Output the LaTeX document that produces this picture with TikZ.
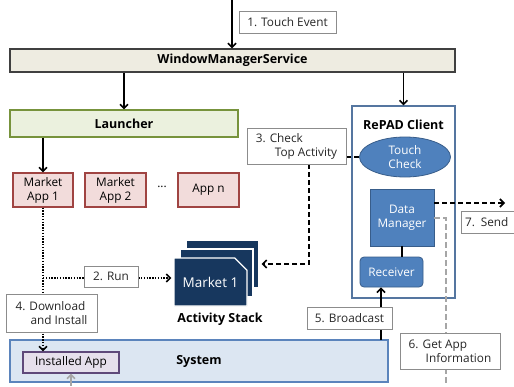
\documentclass[tikz,border=0pt]{standalone}
\usepackage{fontspec}
\setmainfont{Open Sans}
\usetikzlibrary{arrows.meta,shapes.geometric,shapes.misc}
\definecolor{wmsfill}{HTML}{EEECE1}
\definecolor{lnchfill}{HTML}{EBF1DE}
\definecolor{lnchline}{HTML}{77933C}
\definecolor{appfill}{HTML}{F2DCDB}
\definecolor{appline}{HTML}{A04442}
\definecolor{blockfill}{HTML}{4F81BD}
\definecolor{blockline}{HTML}{385D8A}
\definecolor{clientline}{HTML}{5576A0}
\definecolor{sysfill}{HTML}{DCE6F2}
\definecolor{sysline}{HTML}{5B84BC}
\definecolor{instfill}{HTML}{E6E0EC}
\definecolor{instline}{HTML}{5F497A}
\definecolor{stackfill}{HTML}{17375E}
\newcommand{\hd}[1]{{\fontsize{12.5}{15}\selectfont\bfseries #1}}
\tikzset{
  every node/.style={font=\fontsize{11.8}{14}\selectfont, inner sep=0pt, align=center},
  wmsbox/.style={draw=black!75, fill=wmsfill, line width=1.3pt},
  lnchbox/.style={draw=lnchline, fill=lnchfill, line width=1.2pt},
  appbox/.style={draw=appline, fill=appfill, line width=1.1pt, minimum width=61pt, minimum height=34pt},
  clientbox/.style={draw=clientline, fill=white, line width=1.2pt},
  block/.style={draw=blockline, fill=blockfill, line width=0.8pt, text=white},
  sysbox/.style={draw=sysline, fill=sysfill, line width=1.2pt},
  instbox/.style={draw=instline, fill=instfill, line width=1.2pt},
  card/.style={chamfered rectangle, chamfered rectangle corners=north east,
    chamfered rectangle xsep=7pt, chamfered rectangle ysep=7pt,
    draw=white, fill=stackfill, line width=1.2pt, minimum width=73pt, minimum height=48pt, text=white},
  stepnote/.style={draw=black!45, fill=white, line width=0.8pt, text=black!85, align=left},
  solidarr/.style={->, line width=1.6pt},
  dasharr/.style={line width=1.6pt, dash pattern=on 5pt off 3pt},
  dotarr/.style={line width=1.6pt, dash pattern=on 1.4pt off 1.4pt},
  grayline/.style={line width=1.4pt, gray!70, dash pattern=on 6pt off 3pt},
}
\begin{document}
\begin{tikzpicture}[x=1pt,y=-1pt,>={Straight Barb[length=4pt,width=8pt]}]
\clip (0,0) rectangle (514,386);
\node[wmsbox, minimum width=445pt, minimum height=23pt] (wms) at (232.5,60.5) {\hd{WindowManagerService}};
\node[lnchbox, minimum width=228pt, minimum height=27pt] (launcher) at (124,123.5) {\hd{Launcher}};
\node[clientbox, minimum width=103pt, minimum height=192pt] (client) at (403.5,202) {};
\node (clienttitle) at (403.5,124.5) {\hd{RePAD Client}};
\node[appbox, minimum width=60pt] (market1) at (43,190) {Market\\App 1};
\node[appbox] (market2) at (115.5,190) {Market\\App 2};
\node (dots) at (162,187) {...};
\node[appbox] (appn) at (208.5,190) {App n};
\node[block, ellipse, minimum width=91pt, minimum height=40pt] (touch) at (405,157) {Touch\\Check};
\node[block, minimum width=64pt, minimum height=57pt] (dm) at (402,217.5) {Data\\Manager};
\node[block, rounded corners=4pt, minimum width=63pt, minimum height=30pt] (receiver) at (391.5,272) {Receiver};
\node[sysbox, minimum width=378pt, minimum height=42pt] (system) at (199,361) {\hd{System}};
\node[instbox, minimum width=96pt, minimum height=21pt] (installed) at (71,362.5) {Installed App};
\node[card] (card3) at (222.5,264) {};
\node[card] (card2) at (216.5,273) {};
\node[card] (card1) at (210.5,282) {\raisebox{-4pt}{\fontsize{13.5}{16}\selectfont Market 1}};
\node (stacklbl) at (220,319) {\hd{Activity Stack}};
\coordinate (tap) at (232,0);
\coordinate (chkx) at (309,0);
\coordinate (runstart) at (43,278);
\coordinate (sendend) at (505,203);
\coordinate (grayturn) at (446,218);
\coordinate (grayend) at (446,386);
\coordinate (bcast) at (381,340);
\coordinate (instfeed) at (71,386);
\draw[solidarr] (tap) -- (tap |- wms.north);
\draw[solidarr] (launcher.north |- wms.south) -- (launcher.north);
\draw[solidarr] (client.north |- wms.south) -- (client.north);
\draw[solidarr] (market1.north |- launcher.south) -- (market1.north);
\draw[line width=1.6pt] (dm.south) -- (dm.south |- receiver.north);
\draw[solidarr] (bcast) -- (bcast |- receiver.south);
\draw[dasharr] (touch.west) -- (touch.west -| 346,0);
\draw[dasharr, ->, shorten >=2pt] (chkx |- 0,164) |- (card3.east);
\draw[dasharr, ->] (sendend -| dm.east) -- (sendend);
\draw[grayline] (grayturn -| dm.east) -- (grayturn) -- (grayend);
\draw[dotarr, ->] (market1.south) -- (market1.south |- installed.north);
\draw[dotarr, ->, shorten >=2pt] (runstart) -- (runstart -| card1.west);
\draw[->, line width=1.6pt, gray!70] (instfeed) -- (installed.south);
\node[stepnote, minimum width=97pt, minimum height=22pt] (touchnote) at (287.5,22) {1. Touch Event};
\node[stepnote, minimum width=54pt, minimum height=21pt] (runnote) at (111,276.5) {2. Run};
\node[stepnote, minimum width=99pt, minimum height=36pt] (check) at (296.5,146) {3. Check\\\hspace*{19pt}Top Activity};
\node[stepnote, minimum width=91pt, minimum height=38pt] (dlnote) at (51.5,313) {4. Download\\\hspace*{15pt}and Install};
\node[stepnote, minimum width=85pt, minimum height=22pt] (bcnote) at (349.5,318) {5. Broadcast};
\node[stepnote, minimum width=100pt, minimum height=36pt] (infonote) at (450,351) {6. Get App\\\hspace*{17pt}Information};
\node[stepnote, minimum width=70pt, minimum height=22pt, text width=62pt] (sendnote) at (496,222) {7. Send};
\end{tikzpicture}
\end{document}
